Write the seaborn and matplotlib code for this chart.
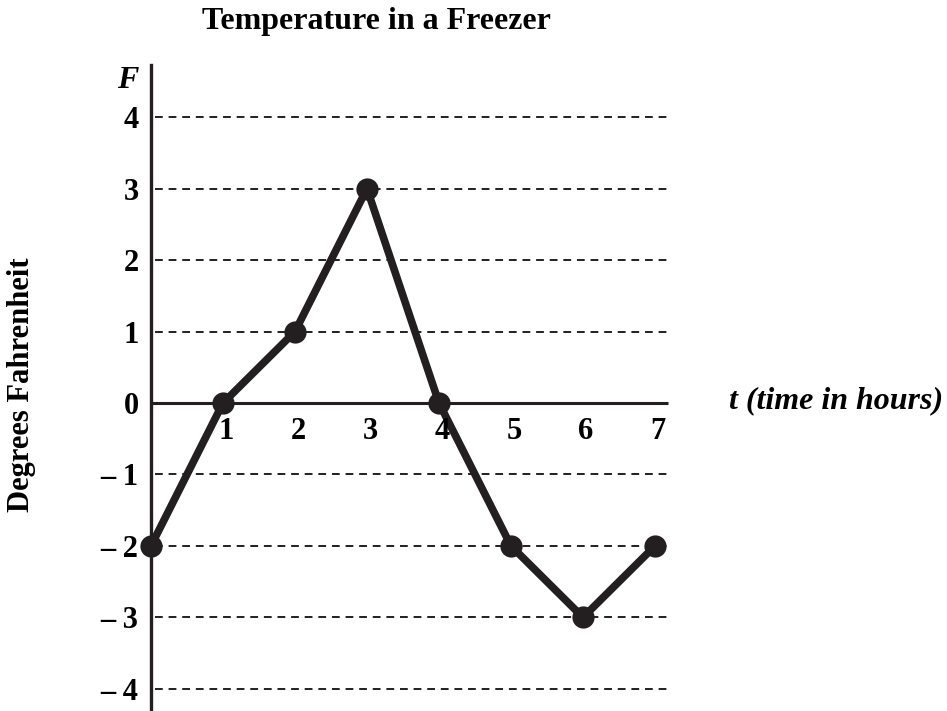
import matplotlib
matplotlib.use("Agg")
import matplotlib.pyplot as plt
import seaborn as sns
import pandas as pd

# data
hours = [0, 1, 2, 3, 4, 5, 6, 7]
temps = [-2, 0, 1, 3, 0, -2, -3, -2]
y_ticks = [4, 3, 2, 1, 0, -1, -2, -3, -4]
y_tick_labels = ["4", "3", "2", "1", "0", "\u2013 1", "\u2013 2", "\u2013 3", "\u2013 4"]
x_tick_labels = ["1", "2", "3", "4", "5", "6", "7"]

ink = "#231f20"
sns.set_theme(style="white")
plt.rcParams["font.family"] = ["Liberation Serif", "DejaVu Serif"]
plt.rcParams["text.color"] = "black"
plt.rcParams["ytick.color"] = "black"

fig = plt.figure(figsize=(9.47, 7.11), dpi=100)
ax = fig.add_axes([151 / 947, 0, 549 / 947, 646 / 711])
ax.set_xlim(0, 7.625)
ax.set_ylim(-4.31, 4.73)

# dashed guide lines and the t axis
grid_y = [v for v in y_ticks if v != 0]
ax.hlines(grid_y, 0.05, 7.18, colors=ink, linewidth=1.4, linestyles=(0, (4, 3)), zorder=1)
ax.hlines(0, 0, 7.18, colors=ink, linewidth=2.2, zorder=2)

df = pd.DataFrame({"t": hours, "F": temps})
sns.lineplot(data=df, x="t", y="F", ax=ax, color=ink, linewidth=5.5,
             marker="o", markersize=16, markeredgewidth=0, clip_on=False, zorder=3)

for side in ["top", "right", "bottom"]:
    ax.spines[side].set_visible(False)
ax.spines["left"].set_color(ink)
ax.spines["left"].set_linewidth(2.4)

ax.set_yticks(y_ticks)
ax.set_yticklabels(y_tick_labels, fontsize=22, fontweight="bold", color="black")
ax.tick_params(axis="y", length=0, pad=9)
ax.set_xticks([])
ax.set_xlabel("")
ax.set_ylabel("")

for x, lab in zip(hours[1:], x_tick_labels):
    ax.text(x + 0.04, -0.4, lab, ha="center", va="center", fontsize=22,
            fontweight="bold", color="black")

fig.text(376 / 947, 1 - 22 / 711, "Temperature in a Freezer", ha="center", va="center",
         fontsize=23, fontweight="bold", color="black")
fig.text(128 / 947, 1 - 80 / 711, "F", ha="center", va="center", fontsize=23,
         fontweight="bold", style="italic", color="black")
fig.text(836 / 947, 1 - 401 / 711, "t (time in hours)", ha="center", va="center",
         fontsize=23, fontweight="bold", style="italic", color="black")
fig.text(22 / 947, 1 - 385 / 711, "Degrees Fahrenheit", ha="center", va="center",
         rotation=90, fontsize=22, fontweight="bold", color="black")

fig.savefig("out.png", dpi=100)
